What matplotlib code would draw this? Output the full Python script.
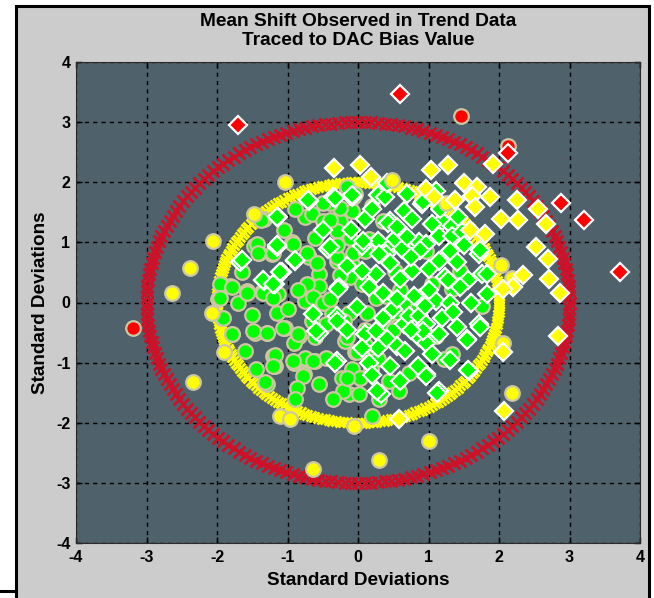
import numpy as np
import matplotlib
matplotlib.use('Agg')
import matplotlib.pyplot as plt
from matplotlib.patches import Rectangle
from matplotlib.lines import Line2D

plt.rcParams['font.family'] = ['Liberation Sans', 'DejaVu Sans']
plt.rcParams['font.weight'] = 'bold'

# Reference rings (radius in standard deviations) and how many marks make up each ring
ring_radii = [3, 2]
ring_marks = [200, 240]

# Points within the 2 sigma ring
green_circle_x = [-0.16, -0.04, 0.20, -1.34, -0.75, -0.65, -0.49, -0.25, -0.09, -0.30,
                  -0.11, 0.15, 0.27, -0.61, -0.70, -0.94, -1.48, -1.41, -1.22, -0.30,
                  -0.09, 0.53, 0.82, 0.96, 1.45, 1.34, -0.56, -0.56, -0.75, -1.82,
                  -1.58, -1.70, -1.36, -1.13, -1.98, -1.93, -1.15, -1.79, -1.46, -1.29,
                  -1.03, -0.84, -0.91, -0.61, -0.37, -0.13, 0.13, 0.25, 0.46, 0.58,
                  0.67, -0.18, -0.04, 0.15, 0.29, -0.09, 0.03, 0.18, -0.23, -0.13,
                  0.01, 0.44, 0.58, 0.72, -1.20, -1.18, -0.91, -0.75, -0.61, -0.46,
                  -0.77, -1.29, 0.20, 1.34, 1.22, 1.76, -1.37, -0.92, -1.43, -1.42,
                  -1.20, -1.96, -1.79, -1.58, -1.35, -0.72, -0.64, -0.72, -0.58, -0.40,
                  -0.26, -0.16, -0.07, -0.30, -0.07, -0.11, -1.96, -1.91, -1.79, -1.49,
                  -1.29, -1.06, -0.85, -1.18, -1.20, -0.92, -0.78, -0.64, -1.32, -0.87,
                  -0.21, -0.16, -0.16, -0.01, -1.20, -0.45, 0.35, 0.05, -0.40, 0.40,
                  0.10, -0.50, 0.60, 0.85, 1.05,
                  -0.50, -0.90, -1.05, -0.30, -0.85, -0.40, -0.20, -1.00, -1.50, -1.60,
                  -0.55, -0.35, 0.30, -0.90, -1.65, 0.10, 0.45, 0.90, 1.10, 0.50,
                  -0.65, -1.45, 0.10, -0.25, 0.35]
green_circle_y = [1.89, 1.81, 1.61, 1.39, 1.42, 1.47, 1.36, 1.36, 1.53, 1.19,
                  1.08, 1.06, 1.03, 1.08, 0.75, 1.00, 0.94, 0.83, 0.81, 0.69,
                  0.64, 0.53, 0.94, 0.86, 0.53, 0.22, 0.47, 0.28, 0.03, 0.28,
                  0.19, 0.00, 0.17, 0.14, 0.06, -0.25, -0.17, -0.53, -0.50, -0.50,
                  -0.42, -0.56, -0.67, -0.58, -0.17, -0.17, -0.17, 0.08, -0.19, -0.17,
                  -0.03, -0.64, -0.83, -0.92, -0.94, -1.11, -1.25, -1.11, -1.25, -1.53,
                  -1.53, -1.31, -1.47, -1.17, -0.89, -1.06, -1.00, -0.92, -0.97, -0.92,
                  -1.19, -1.36, -1.89, -0.86, -0.94, -0.06, 1.37, 0.98, 0.98, 0.83,
                  0.82, 0.31, 0.25, 0.15, 0.15, 0.31, 0.09, 0.82, 0.65, 1.37,
                  1.58, 1.92, 1.75, 0.75, 0.82, 0.42, 0.07, -0.25, -0.52, -0.47,
                  -0.50, -0.43, -0.52, -0.88, -1.05, -0.97, -1.22, -0.97, -1.33, -1.43,
                  -1.47, -0.58, -1.25, -0.83, 0.08, -0.35, -0.40, 0.30, 1.65, 0.10,
                  -0.70, 0.00, 0.20, -0.05, 0.30,
                  1.65, 1.55, 1.20, 0.95, 0.20, 0.05, -0.30, -0.10, -0.20, -0.80,
                  -1.35, -1.60, -1.60, -1.60, 0.50, 0.85, 0.95, 0.10, -0.55, -0.45,
                  -0.30, -1.10, -0.45, 0.45, 1.35]

green_diamond_x = [-0.70, -0.35, 0.29, 0.39, 0.46, 0.65, 0.77, 0.91, 1.19, 1.34,
                   0.10, 0.06, 0.29, 0.53, 0.63, 0.86, 0.96, 1.15, 1.34, 1.48,
                   1.72, 1.76, 1.83, 1.41, 1.24, 1.15, 0.77, 0.60, 0.25, 0.06,
                   -0.27, -0.42, -0.89, -1.08, -1.15, -1.18, -1.34, -1.67, -0.56, -0.30,
                   -0.01, 0.10, 0.29, 0.41, 0.55, 0.65, 0.72, 0.86, 0.96, 0.86,
                   0.96, 1.10, 1.19, 1.55, 1.72, 1.15, -0.30, 0.25, 0.67, 0.96,
                   1.15, 1.57, 0.32, -1.13, -0.09, 0.41, 0.92, 1.16, 1.42, 1.73,
                   1.83, 1.56, 1.28, 0.43, 0.07, 0.69, 0.88, 1.73, 1.54, 0.97,
                   1.12, 1.56, 0.92, 0.27, -0.59, -0.30, -0.33, -0.64, -1.15, -1.65,
                   -1.15, -0.89, -1.11, -1.35, -1.20, -0.71, -0.33, -0.09, -0.28, -0.40,
                   0.35, 0.50, 1.00, 1.30, 0.15, 0.80, 1.45, 0.40,
                   0.20, 0.55, 0.75, 1.00, 1.30, 0.45, 0.15, 0.55, 0.95, 1.35,
                   0.35, 0.75, 1.05, 0.45, 0.85, 1.30, 0.05, -0.15, 0.60, 1.60,
                   1.50, 1.05, 0.30, -0.15, -0.50, -0.10, 0.70, 1.10, 0.20, 1.40]
green_diamond_y = [1.69, 1.75, 1.78, 1.75, 1.36, 1.53, 1.39, 1.64, 1.36, 1.28,
                   1.39, 0.94, 1.03, 1.06, 0.89, 1.00, 0.97, 1.11, 1.11, 1.17,
                   0.81, 0.47, 0.14, 0.67, 0.42, 0.69, 0.53, 0.39, 0.47, 0.53,
                   0.25, 0.89, 0.69, 0.50, 0.92, 0.31, 0.36, 0.67, -0.50, -0.22,
                   -0.08, -0.53, -0.75, -0.61, -0.72, -0.36, -0.22, -0.22, -0.36, -0.58,
                   -0.67, 0.03, -0.25, -0.61, -0.36, -0.53, -0.97, -0.47, -0.81, -1.19,
                   -1.47, -1.14, -1.53, 1.42, 1.76, 1.98, 1.67, 1.56, 1.42, 0.87,
                   0.48, 0.37, 0.37, 1.32, 1.03, 1.09, 0.87, -0.41, -0.63, -1.22,
                   -1.50, -1.13, -0.47, -1.47, -0.47, -0.30, -1.00, -0.19, 1.42, 0.70,
                   0.95, 0.70, 0.51, 0.37, 0.31, 1.70, 1.73, 1.78, 0.23, 0.92,
                   0.15, -0.10, 0.20, 0.00, -1.00, 0.10, 0.25, 0.80,
                   1.55, 1.25, 0.75, 0.55, 0.85, 0.65, 0.25, 0.05, -0.05, -0.15,
                   -0.25, -0.45, -0.85, -1.05, -1.05, -0.95, -0.75, -0.45, -1.30, 0.00,
                   0.95, 1.30, 0.80, 0.60, 1.20, 1.20, 1.80, 1.85, -1.20, -0.40]

# Points between the 2 and 3 sigma rings
yellow_circle_x = [-1.04, -2.06, -2.38, -2.64, -2.34, -0.64, 0.30, 1.01, 2.18, -0.06,
                   -1.10, -0.96, -1.47, 0.48, 1.25, 2.03, 2.18, 2.05, -1.90, -2.07]
yellow_circle_y = [2.00, 1.03, 0.58, 0.15, -1.33, -2.77, -2.62, -2.30, -1.50, -2.05,
                   -1.88, -1.93, 1.47, 2.03, 1.65, 0.62, 0.40, -0.68, -0.83, -0.17]

yellow_diamond_x = [-0.34, 0.03, 0.19, 1.04, 1.28, 1.91, 1.50, 1.69, 1.61, 1.66,
                    1.87, 0.96, 1.08, 1.38, 2.25, 2.03, 2.27, 2.56, 2.67, 2.52,
                    2.70, 2.71, 2.87, 2.34, 2.20, 1.80, 1.59, 2.06, 2.83, 2.06,
                    2.07, 0.58]
yellow_diamond_y = [2.23, 2.28, 2.09, 2.21, 2.28, 2.31, 1.99, 1.92, 1.77, 1.59,
                    1.76, 1.89, 1.76, 1.70, 1.70, 1.39, 1.38, 1.56, 1.31, 0.92,
                    0.73, 0.39, 0.16, 0.45, 0.26, 1.14, 1.20, 0.23, -0.55, -0.83,
                    -1.80, -1.93]

# Points beyond the 3 sigma ring
red_circle_x = [1.46, 2.13, -3.19]
red_circle_y = [3.10, 2.60, -0.43]

red_diamond_x = [0.60, -1.70, 2.13, 2.88, 3.20, 3.72]
red_diamond_y = [3.47, 2.95, 2.48, 1.65, 1.37, 0.50]

ticks = [-4, -3, -2, -1, 0, 1, 2, 3, 4]


def plot_group(ax, x, y, marker, color, edge, size):
    """Draw one colour/marker group of trend points."""
    ax.plot(x, y, linestyle='none', marker=marker, markersize=size,
            markerfacecolor=color, markeredgecolor=edge, markeredgewidth=1.6)


fig = plt.figure(figsize=(6.54, 5.98), dpi=100)
fig.patch.set_facecolor('white')

# gray panel with a black frame
fig.add_artist(Rectangle((16 / 654, -0.02), 633 / 654, 1.0 - 6 / 598 + 0.02,
                         transform=fig.transFigure, facecolor='#cccccc',
                         edgecolor='black', linewidth=2.2, zorder=-10))
fig.add_artist(Line2D([0, 16 / 654], [1 - 591 / 598] * 2, transform=fig.transFigure,
                      color='black', linewidth=2.2))

ax = fig.add_axes([76 / 654, 1 - 543 / 598, 564 / 654, 481 / 598])
ax.set_facecolor('#4f616b')

# sigma rings
ring_colors = ['#cc1128', '#ffff00']
ring_sizes = [9, 7]
for radius, n, color, size in zip(ring_radii, ring_marks, ring_colors, ring_sizes):
    theta = np.linspace(0, 2 * np.pi, n, endpoint=False)
    ax.plot(radius * np.cos(theta), radius * np.sin(theta), linestyle='none',
            marker='x', markersize=size, markeredgewidth=2.0, color=color)

tan = '#cdc8a2'
plot_group(ax, green_circle_x, green_circle_y, 'o', '#00ff00', tan, 10.5)
plot_group(ax, green_diamond_x, green_diamond_y, 'D', '#00ff00', 'white', 9.2)
plot_group(ax, yellow_circle_x, yellow_circle_y, 'o', '#ffff00', tan, 10.5)
plot_group(ax, yellow_diamond_x, yellow_diamond_y, 'D', '#ffff00', 'white', 9.2)
plot_group(ax, red_circle_x, red_circle_y, 'o', '#ff0000', tan, 10.5)
plot_group(ax, red_diamond_x, red_diamond_y, 'D', '#ff0000', 'white', 9.2)

ax.set_xlim(-4, 4)
ax.set_ylim(-4, 4)
ax.set_xticks(ticks)
ax.set_yticks(ticks)
ax.set_xticklabels([str(t) for t in ticks], fontsize=11.5, fontweight='bold')
ax.set_yticklabels([str(t) for t in ticks], fontsize=11.5, fontweight='bold')
ax.tick_params(direction='in', length=4, width=1, top=True, right=True)
ax.tick_params(axis='x', pad=5)
ax.tick_params(axis='y', pad=4)
ax.grid(True, color='black', linestyle=(0, (3, 3)), linewidth=1.0)
ax.set_axisbelow(True)
for spine in ax.spines.values():
    spine.set_color('#2a2a2a')
    spine.set_linewidth(0.8)

ax.set_title('Mean Shift Observed in Trend Data\nTraced to DAC Bias Value',
             fontsize=13.8, fontweight='bold', pad=12, linespacing=1.2)
ax.set_xlabel('Standard Deviations', fontsize=13.6, fontweight='bold', labelpad=5)
ax.set_ylabel('Standard Deviations', fontsize=13.6, fontweight='bold', labelpad=5)

fig.savefig('out.png', dpi=100)
